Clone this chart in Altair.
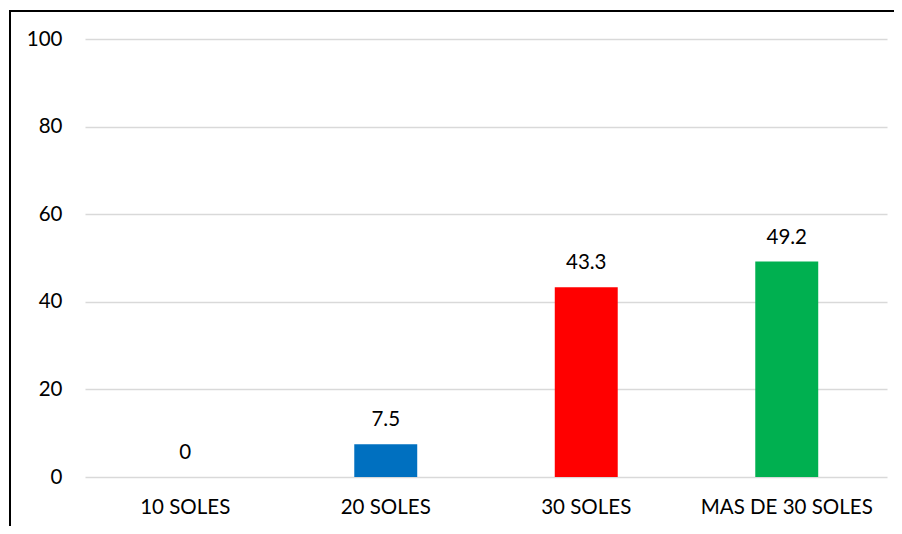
import altair as alt
import pandas as pd

categories = ["10 SOLES", "20 SOLES", "30 SOLES", "MAS DE 30 SOLES"]
values = [0, 7.5, 43.3, 49.2]
colors = ["#0070C0", "#0070C0", "#FF0000", "#00B050"]
labels = ["0", "7.5", "43.3", "49.2"]

df = pd.DataFrame({"cat": categories, "val": values, "color": colors, "label": labels})

W, H = 802, 438
PL, PT, PR, PB = 77, 31, 7, 49
FONT = "Lato"
FS = 20.5

x = alt.X("cat:N", sort=categories, title=None,
          scale=alt.Scale(paddingInner=0.686, paddingOuter=0.343),
          axis=alt.Axis(labelAngle=0, domain=False, ticks=False, labelPadding=20, grid=False,
                        labelFont=FONT, labelFontSize=FS, labelFontWeight="normal", labelColor="#000000"))
y = alt.Y("val:Q", title=None,
          scale=alt.Scale(domain=[0, 100], nice=False),
          axis=alt.Axis(values=[0, 20, 40, 60, 80, 100], domain=False, ticks=False,
                        labelPadding=23, labelFont=FONT, labelFontSize=FS, labelFontWeight="normal",
                        labelColor="#000000", gridColor="#D9D9D9", gridWidth=1.3))

bars = alt.Chart(df).mark_bar().encode(x=x, y=y, color=alt.Color("color:N", scale=None))
text = alt.Chart(df).mark_text(baseline="middle", dy=-24, font=FONT, fontSize=FS, color="#000000").encode(
    x=alt.X("cat:N", sort=categories), y="val:Q", text="label:N")

top_line = alt.Chart(df).mark_rect(fill="#000000", clip=False).encode(
    x=alt.value(-76), x2=alt.value(W + PR), y=alt.value(-29), y2=alt.value(-27))
left_line = alt.Chart(df).mark_rect(fill="#000000", clip=False).encode(
    x=alt.value(-76), x2=alt.value(-74), y=alt.value(-29), y2=alt.value(H + PB))
right_cover = alt.Chart(df).mark_rect(fill="#ffffff", clip=False).encode(
    x=alt.value(W + PR - 4), x2=alt.value(W + PR + 2), y=alt.value(-26), y2=alt.value(H + PB + 2))

chart = alt.layer(top_line, left_line, right_cover, bars, text).properties(
    width=W, height=H,
    background="#ffffff",
    autosize=alt.AutoSizeParams(type="none"),
    padding={"left": PL, "top": PT, "right": PR, "bottom": PB},
).configure_view(stroke="transparent")

chart.save("out.html", embed_options={"renderer": "svg", "actions": False})
